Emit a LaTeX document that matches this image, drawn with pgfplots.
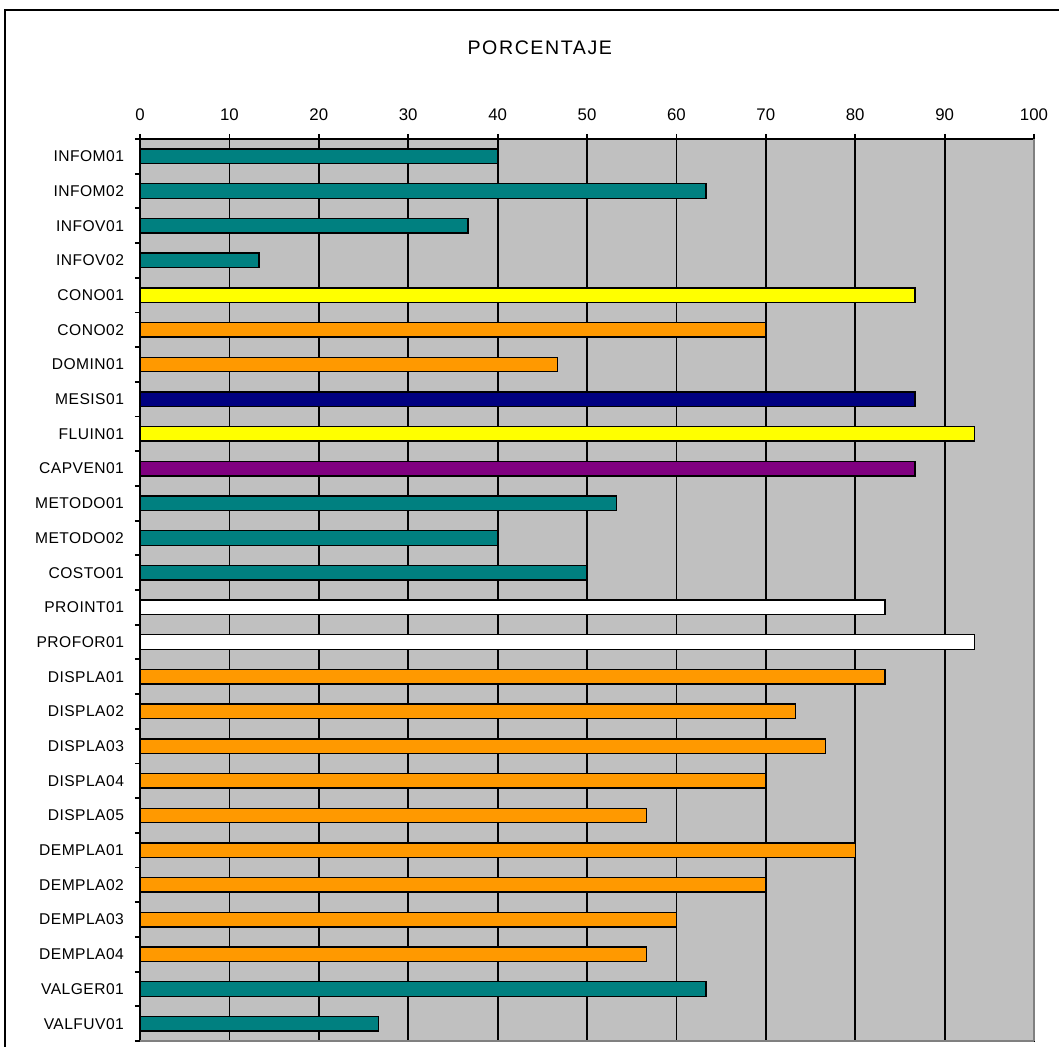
\documentclass[border=0pt]{standalone}
\usepackage{pgfplots}
\pgfplotsset{compat=1.18}
\usepackage{fontspec}
\setmainfont{Liberation Sans}
\newfontfamily\titlefont[LetterSpace=8]{Liberation Sans}
\newfontfamily\labelfont[LetterSpace=3]{Liberation Sans}
\definecolor{cteal}{HTML}{008080}
\definecolor{cyel}{HTML}{FFFF00}
\definecolor{corange}{HTML}{FF9900}
\definecolor{cnavy}{HTML}{000080}
\definecolor{cpurple}{HTML}{800080}
\definecolor{cbg}{HTML}{C0C0C0}
\definecolor{cdgray}{HTML}{808080}
\begin{document}
\begin{tikzpicture}[x=1pt,y=1pt]
\clip (0,0) rectangle (529.5,523.5);
\draw[line width=1pt] (2.5,-20) rectangle (560,518.5);
\node[font=\titlefont\fontsize{9.8}{11}\selectfont] at (269.9,499.5) {PORCENTAJE};
\begin{axis}[
  at={(70pt,3pt)}, anchor=south west, scale only axis,
  width=447pt, height=451pt,
  xmin=0, xmax=100, ymin=-0.5, ymax=25.5, y dir=reverse,
  axis background/.style={fill=cbg},
  axis line style={black, line width=0.9pt},
  xbar, bar shift=0pt, bar width=0.42,
  xtick={0,10,...,100}, xtick pos=upper, xticklabel pos=upper,
  ytick={0,...,25}, ytick pos=left,
  yticklabels={INFOM01,INFOM02,INFOV01,INFOV02,CONO01,CONO02,DOMIN01,MESIS01,FLUIN01,CAPVEN01,METODO01,METODO02,COSTO01,PROINT01,PROFOR01,DISPLA01,DISPLA02,DISPLA03,DISPLA04,DISPLA05,DEMPLA01,DEMPLA02,DEMPLA03,DEMPLA04,VALGER01,VALFUV01},
  minor xtick={0,10,...,100}, minor ytick={-0.5,0.5,...,25.5},
  tick align=outside, major tick length=0pt, minor tick length=2.5pt,
  every minor tick/.style={black, line width=0.9pt},
  xmajorgrids, grid style={black, line width=0.9pt},
  /pgf/number format/assume math mode=true,
  xticklabel style={font=\fontsize{8.4}{10}\selectfont, yshift=5.5pt},
  yticklabel style={font=\labelfont\fontsize{7.8}{9}\selectfont, xshift=-4.5pt},
  every axis plot/.append style={draw=black, line width=0.7pt},
  clip=false,
]
\addplot[fill=cteal] coordinates {(40,0) (63.33,1) (36.67,2) (13.33,3) (53.33,10) (40,11) (50,12) (63.33,24) (26.67,25)};
\addplot[fill=cyel] coordinates {(86.67,4) (93.33,8)};
\addplot[fill=corange] coordinates {(70,5) (46.67,6) (83.33,15) (73.33,16) (76.67,17) (70,18) (56.67,19) (80,20) (70,21) (60,22) (56.67,23)};
\addplot[fill=cnavy] coordinates {(86.67,7)};
\addplot[fill=cpurple] coordinates {(86.67,9)};
\addplot[fill=white] coordinates {(83.33,13) (93.33,14)};
\draw[cdgray, line width=0.9pt] (rel axis cs:1,0) -- (rel axis cs:1,1);
\draw[cdgray, line width=0.9pt] (rel axis cs:0,0) -- (rel axis cs:1,0);
\end{axis}
\end{tikzpicture}
\end{document}
